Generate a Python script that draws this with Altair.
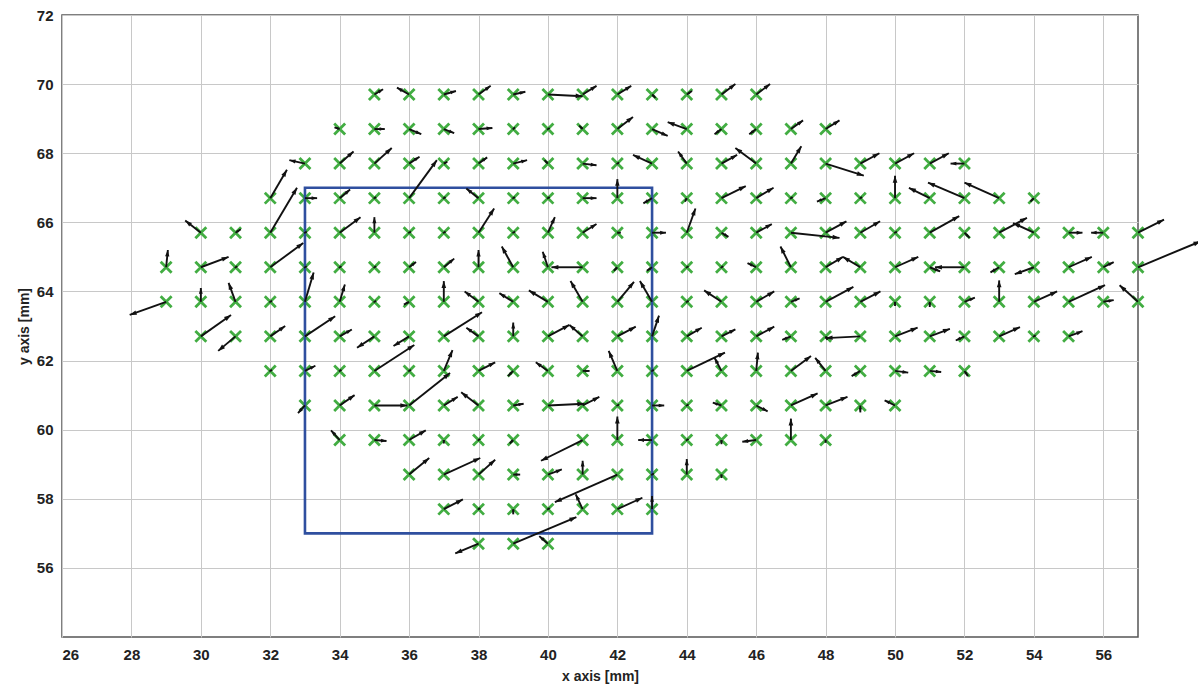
import numpy as np
import pandas as pd
import altair as alt

# ---- displacement field: grid rows (y level), columns x, vector components u, v (mm)
X_697 = list(range(35, 47))
U_697 = [0.25, -0.35, 0.35, 0.35, 0.35, 1.0, 0.4, 0.4, 0.1, 0.15, 0.4, 0.4]
V_697 = [0.15, 0.2, 0.1, 0.25, 0.08, -0.05, 0.25, 0.25, -0.1, 0.1, 0.3, 0.3]

X_687 = list(range(34, 49))
U_687 = [-0.15, 0.3, 0.35, 0.3, 0.4, 0.05, 0.05, -0.1, 0.45, 0.45, -0.55, -0.2, -0.2, 0.35, 0.4]
V_687 = [0.05, 0.0, -0.15, -0.12, 0.03, 0.05, 0.03, 0.1, 0.35, -0.2, 0.2, -0.15, -0.15, 0.25, 0.25]

X_677 = list(range(33, 53))
U_677 = [-0.45, 0.4, 0.5, 0.3, 0.1, 0.25, 0.4, -0.1, 0.4, 0.05, -0.55, -0.25, 0.45, -0.6, 0.3, 1.1, 0.55, 0.55, 0.55, -0.4]
V_677 = [0.1, 0.35, 0.45, 0.2, 0.05, 0.18, 0.1, 0.1, -0.05, 0.03, 0.25, 0.35, 0.25, 0.45, 0.5, -0.35, 0.3, 0.3, 0.3, 0.0]

X_667 = list(range(32, 55))
U_667 = [0.48, 0.35, 0.3, 0.05, 0.8, 0.05, -0.35, 0.05, 0.05, 0.4, 0.0, -0.25, -0.05, 0.7, 0.5, 0.05, -0.25, 0.05, 0.0, -0.6, -1.05, -1.0, -0.1]
V_667 = [0.82, 0.0, 0.25, 0.03, 1.1, 0.03, 0.28, 0.03, 0.03, 0.0, 0.55, -0.15, -0.1, 0.35, 0.3, 0.03, -0.1, 0.03, 0.65, 0.3, 0.45, 0.45, -0.1]

X_657 = list(range(30, 58))
U_657 = [-0.45, 0.15, 0.77, 0.05, 0.6, 0.0, 0.05, 0.05, 0.45, 0.05, 0.2, 0.4, 0.1, 0.4, 0.25, 0.2, 0.45, 1.4, 0.6, 0.57, 0.05, 0.85, 0.15, 0.8, -0.6, 0.4, -0.35, 0.75]
V_657 = [0.35, 0.1, 1.3, 0.03, 0.45, 0.45, 0.03, 0.03, 0.7, 0.03, 0.45, 0.25, 0.0, 0.0, 0.7, -0.12, 0.25, -0.15, 0.33, 0.33, 0.03, 0.48, -0.15, 0.43, 0.28, 0.0, 0.0, 0.38]

X_647 = list(range(29, 58))
U_647 = [0.05, 0.8, 0.05, 0.95, 0.05, 0.05, 0.05, 0.2, 0.3, 0.0, -0.33, -0.15, -0.9, -0.1, -0.15, 0.05, 0.05, -0.25, -0.3, 0.5, -0.5, 0.67, 0.3, -0.85, -0.25, -0.55, 0.67, 0.3, 1.8]
V_647 = [0.5, 0.3, 0.03, 0.7, 0.03, 0.03, 0.03, 0.15, 0.25, 0.5, 0.6, 0.45, 0.0, -0.1, -0.1, 0.03, 0.03, 0.12, 0.6, 0.3, 0.3, 0.3, -0.12, 0.0, -0.15, -0.2, 0.3, 0.15, 0.75]

X_637 = list(range(29, 58))
U_637 = [-1.05, 0.0, -0.2, 0.05, 0.25, 0.15, 0.05, -0.15, 0.0, -0.4, -0.4, -0.55, -0.35, 0.48, -0.35, 0.05, -0.5, 0.52, 0.25, 0.8, 0.58, 0.0, 0.0, 0.3, 0.0, 0.67, 1.05, 0.3, -0.53]
V_637 = [-0.38, 0.4, 0.55, 0.03, 0.85, 0.5, 0.03, -0.08, 0.6, 0.3, 0.25, 0.33, 0.6, 0.58, 0.6, 0.03, 0.33, 0.3, 0.1, 0.43, 0.3, -0.12, -0.15, 0.12, 0.62, 0.3, 0.48, 0.05, 0.48]

X_627 = list(range(30, 56))
U_627 = [0.87, -0.5, 0.43, 0.87, 0.35, -0.5, -0.45, 1.1, -0.35, 0.0, 0.62, -0.38, 0.53, 0.2, 0.43, 0.4, 0.52, -0.25, 0.05, -1.0, 0.65, 0.58, -0.25, 0.6, 0.05, 0.4]
V_627 = [0.62, -0.42, 0.3, 0.58, 0.2, -0.33, -0.28, 0.7, 0.25, 0.4, 0.33, 0.33, 0.28, 0.6, 0.25, 0.2, 0.28, -0.1, -0.1, -0.05, 0.25, 0.22, -0.12, 0.27, 0.03, 0.15]

X_617 = list(range(32, 53))
U_617 = [0.05, 0.3, 0.05, 1.15, 0.05, 0.25, 0.48, -0.15, -0.35, 0.2, -0.25, 0.05, 1.1, -0.2, 0.05, 0.58, -0.3, -0.25, 0.38, 0.33, 0.1]
V_617 = [0.03, 0.15, 0.03, 0.75, 0.03, 0.6, 0.25, -0.15, 0.25, 0.0, 0.58, 0.03, 0.53, 0.38, 0.53, 0.43, 0.38, -0.15, -0.05, -0.03, -0.15]

X_607 = list(range(33, 51))
U_607 = [-0.2, 0.43, 0.95, 1.18, 0.4, -0.5, 0.3, 1.05, 0.48, 0.05, 0.35, 0.05, -0.25, 0.33, 0.77, 0.63, 0.0, -0.3]
V_607 = [-0.22, 0.3, 0.0, 0.94, 0.25, 0.38, 0.05, 0.05, 0.25, 0.03, 0.0, 0.03, 0.08, -0.17, 0.35, 0.25, -0.2, 0.15]

X_597 = [34, 35, 36, 37, 38, 39, 41, 42, 43, 44, 45, 46, 47, 48]
U_597 = [-0.25, 0.35, 0.48, 0.0, 0.05, -0.1, -1.2, 0.0, -0.4, 0.05, 0.0, -0.4, 0.0, 0.0]
V_597 = [0.28, -0.03, 0.28, -0.1, 0.03, -0.1, -0.6, 0.68, 0.0, 0.03, -0.12, -0.05, 0.62, -0.08]

X_587 = list(range(36, 46))
U_587 = [0.58, 1.05, 0.48, 0.2, 0.4, 0.0, -1.8, 0.05, 0.0, 0.0]
V_587 = [0.48, 0.48, 0.43, 0.0, 0.15, 0.4, -0.8, 0.03, 0.45, -0.1]

X_577 = list(range(37, 44))
U_577 = [0.55, 0.05, 0.0, 0.05, -0.2, 0.72, 0.0]
V_577 = [0.28, 0.03, -0.15, 0.03, 0.43, 0.33, 0.38]

X_567 = [38, 39, 40]
U_567 = [-0.67, 1.82, -0.25]
V_567 = [-0.28, 0.77, 0.22]

ROWS = [
    (69.7, X_697, U_697, V_697), (68.7, X_687, U_687, V_687),
    (67.7, X_677, U_677, V_677), (66.7, X_667, U_667, V_667),
    (65.7, X_657, U_657, V_657), (64.7, X_647, U_647, V_647),
    (63.7, X_637, U_637, V_637), (62.7, X_627, U_627, V_627),
    (61.7, X_617, U_617, V_617), (60.7, X_607, U_607, V_607),
    (59.7, X_597, U_597, V_597), (58.7, X_587, U_587, V_587),
    (57.7, X_577, U_577, V_577), (56.7, X_567, U_567, V_567),
]

# region of interest box
BOX_X = [33, 43]
BOX_Y = [57, 67]

X_TICKS = list(range(26, 57, 2))
Y_TICKS = list(range(56, 73, 2))

recs = []
for yv, xs, us, vs in ROWS:
    for xv, u, v in zip(xs, us, vs):
        recs.append({"x": xv, "y": yv, "u": u, "v": v})
df = pd.DataFrame(recs)
df["x2"] = df["x"] + df["u"]
df["y2"] = df["y"] + df["v"]
df["len"] = np.hypot(df["u"], df["v"])
df["ang"] = (np.degrees(np.arctan2(df["u"], df["v"])) + 360.0) % 360.0

box = pd.DataFrame({"x0": [BOX_X[0]], "x1": [BOX_X[1]], "y0": [BOX_Y[0]], "y1": [BOX_Y[1]]})

xscale = alt.Scale(domain=[26, 57], nice=False, zero=False)
yscale = alt.Scale(domain=[54, 72], nice=False, zero=False)

xaxis = alt.Axis(values=X_TICKS, title="x axis [mm]", grid=True, ticks=False, domain=False,
                 labelFont="Liberation Sans Narrow, Liberation Sans", labelFontSize=15,
                 labelFontWeight="bold", labelColor="#222222", labelPadding=10,
                 titleFont="Liberation Sans Narrow, Liberation Sans", titleFontSize=14,
                 titleFontWeight="bold", titleColor="#222222", titlePadding=7)
yaxis = alt.Axis(values=Y_TICKS, title="y axis [mm]", grid=True, ticks=False, domain=False,
                 labelFont="Liberation Sans", labelFontSize=15, labelFontWeight="bold",
                 labelColor="#222222", labelPadding=9,
                 titleFont="Liberation Sans Narrow, Liberation Sans", titleFontSize=14,
                 titleFontWeight="bold", titleColor="#222222", titlePadding=5)

base = alt.Chart(df)

markers = base.mark_point(shape="M-1,-1L1,1M-1,1L1,-1", filled=False, stroke="#42ad42",
                          strokeWidth=2.8, size=120, opacity=1).encode(
    x=alt.X("x:Q", scale=xscale, axis=xaxis),
    y=alt.Y("y:Q", scale=yscale, axis=yaxis),
)

shafts = base.mark_rule(color="#111111", strokeWidth=1.9).encode(
    x=alt.X("x:Q", scale=xscale), y=alt.Y("y:Q", scale=yscale),
    x2="x2:Q", y2="y2:Q",
)

heads = base.mark_point(shape="M0,0L0.6,1.8L-0.6,1.8Z", filled=True, color="#111111",
                        opacity=1).encode(
    x=alt.X("x2:Q", scale=xscale), y=alt.Y("y2:Q", scale=yscale),
    angle=alt.Angle("ang:Q", scale=None),
    size=alt.Size("len:Q", scale=alt.Scale(domain=[0, 0.6], range=[6, 60], clamp=True), legend=None),
)

rect = alt.Chart(box).mark_rect(fillOpacity=0, stroke="#2f4f9f", strokeWidth=2.6).encode(
    x=alt.X("x0:Q", scale=xscale), x2="x1:Q",
    y=alt.Y("y0:Q", scale=yscale), y2="y1:Q",
)

chart = alt.layer(markers, rect, shafts, heads).properties(
    width=1076, height=622,
    autosize=alt.AutoSizeParams(type="none"),
    padding={"left": 62, "top": 15, "right": 60, "bottom": 56},
    background="white",
).configure_view(stroke="#555555", strokeWidth=1.5).configure_axis(
    gridColor="#c8c8c8", gridWidth=1, gridOpacity=1
)

chart.save("out.html", embed_options={"renderer": "svg", "actions": False})
